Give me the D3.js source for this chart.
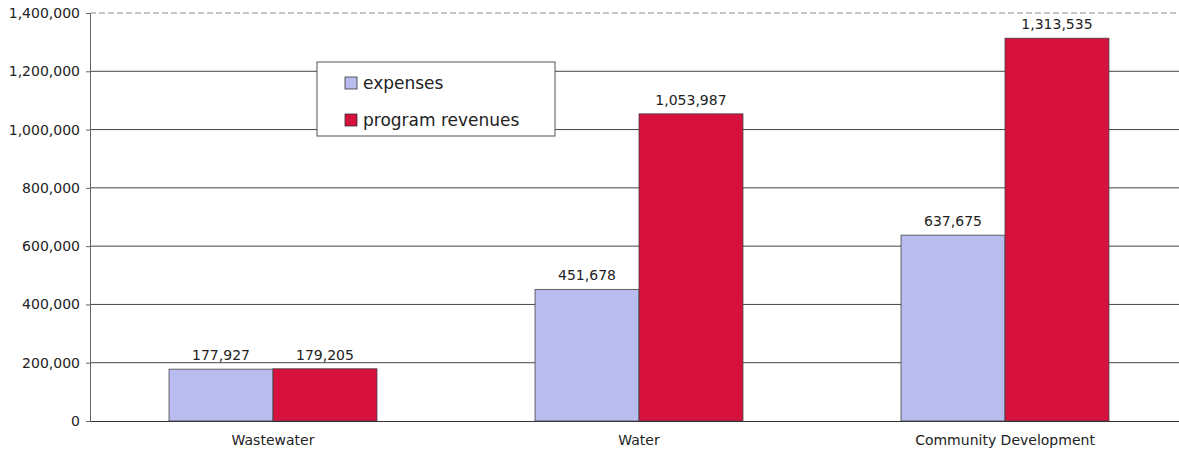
<!DOCTYPE html>
<html>
<head>
<meta charset="utf-8">
<script src="https://cdn.jsdelivr.net/npm/d3@7"></script>
<style>
  html, body { margin: 0; padding: 0; background: #fff; }
  svg { display: block; font-family: "DejaVu Sans", Arial, sans-serif; }
</style>
</head>
<body>
<svg id="chart" width="1179" height="454"></svg>
<script>
// Departments and their totals
const categories = ["Wastewater", "Water", "Community Development"];
const seriesNames = ["expenses", "program revenues"];
const expenses = [177927, 451678, 637675];
const programRevenues = [179205, 1053987, 1313535];
const yTicks = [0, 200000, 400000, 600000, 800000, 1000000, 1200000, 1400000];

const colors = { "expenses": "#b9bcef", "program revenues": "#d6113d" };
const FONT = "'DejaVu Sans', Arial, sans-serif";

const svg = d3.select("#chart");
const margin = { left: 90, right: -9, top: 13, bottom: 33 };
const W = 1179, H = 454;
const plotRight = W - margin.right;
const plotBottom = H - margin.bottom;

const rows = categories.map((c, i) => ({
  category: c,
  values: [
    { key: "expenses", value: expenses[i] },
    { key: "program revenues", value: programRevenues[i] }
  ]
}));

const x0 = d3.scaleBand().domain(categories).range([margin.left, plotRight]).padding(0);
const x1 = d3.scaleBand().domain(seriesNames).range([0, x0.bandwidth()])
  .paddingInner(0).paddingOuter(0.76);
const y = d3.scaleLinear().domain([0, 1400000]).range([plotBottom, margin.top]);

// Horizontal gridlines
svg.append("g")
  .selectAll("line")
  .data(yTicks.filter(t => t > 0))
  .join("line")
  .attr("x1", margin.left).attr("x2", plotRight)
  .attr("y1", d => y(d)).attr("y2", d => y(d))
  .attr("stroke", d => d === 1400000 ? "#8a8a8a" : "#444")
  .attr("stroke-dasharray", d => d === 1400000 ? "6,3" : null)
  .attr("stroke-width", 1);

// Y axis
const yAxis = d3.axisLeft(y).tickValues(yTicks).tickSize(4).tickPadding(6)
  .tickFormat(d3.format(","));
const gy = svg.append("g").attr("transform", `translate(${margin.left},0)`).call(yAxis);
gy.select(".domain").attr("stroke", "#666");
gy.selectAll(".tick line").attr("stroke", "#666");
gy.selectAll(".tick text").attr("font-size", 14).attr("fill", "#222")
  .attr("font-family", FONT);

// Bars
const groups = svg.append("g").selectAll("g")
  .data(rows).join("g")
  .attr("transform", d => `translate(${x0(d.category)},0)`);

groups.selectAll("rect")
  .data(d => d.values).join("rect")
  .attr("x", d => x1(d.key))
  .attr("width", x1.bandwidth())
  .attr("y", d => y(d.value))
  .attr("height", d => y(0) - y(d.value))
  .attr("fill", d => colors[d.key])
  .attr("stroke", "#444")
  .attr("stroke-width", 0.8);

// Value labels
groups.selectAll("text.val")
  .data(d => d.values).join("text")
  .attr("class", "val")
  .attr("x", d => x1(d.key) + x1.bandwidth() / 2)
  .attr("y", d => y(d.value) - 9)
  .attr("text-anchor", "middle")
  .attr("font-size", 14)
  .attr("font-family", FONT)
  .attr("fill", "#222")
  .text(d => d3.format(",")(d.value));

// Baseline / X axis
const xAxis = d3.axisBottom(x0).tickSize(0).tickPadding(14);
const gx = svg.append("g").attr("transform", `translate(0,${plotBottom})`).call(xAxis);
gx.select(".domain").attr("stroke", "#333");
gx.selectAll(".tick text").attr("font-size", 14).attr("fill", "#222")
  .attr("font-family", FONT);

// Legend
const legend = svg.append("g").attr("transform", "translate(317,62)");
legend.append("rect")
  .attr("width", 238).attr("height", 74)
  .attr("fill", "#fff").attr("stroke", "#555").attr("stroke-width", 1);
seriesNames.forEach((name, i) => {
  const row = legend.append("g").attr("transform", `translate(28,${21 + i * 37})`);
  row.append("rect")
    .attr("x", 0).attr("y", -6).attr("width", 12).attr("height", 12)
    .attr("fill", colors[name]).attr("stroke", "#333").attr("stroke-width", 0.8);
  row.append("text")
    .attr("x", 18).attr("y", 0).attr("dy", "0.35em")
    .attr("font-size", 17).attr("fill", "#222")
    .attr("font-family", FONT)
    .text(name);
});
</script>
</body>
</html>
